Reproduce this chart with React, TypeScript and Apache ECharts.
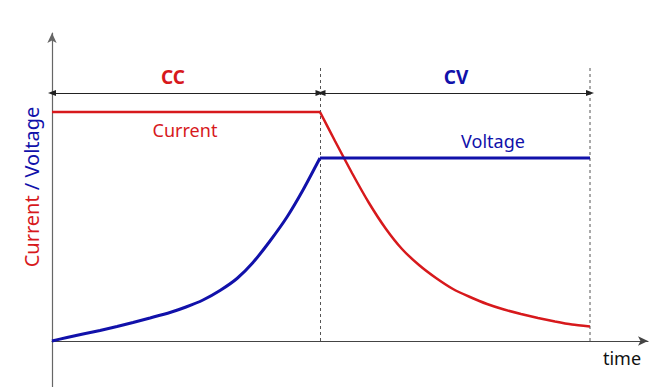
import React, { useEffect, useRef } from "react";
import * as echarts from "echarts";

// time (x) and level (y) in chart units
const currentFlat: [number, number][] = [[0, 229], [268, 229]];
const currentDecay: [number, number][] = [
  [268, 229], [283, 200], [300, 168], [317, 138], [334, 112], [350, 92], [367, 76],
  [384, 63], [401, 52], [418, 44], [435, 37], [452, 31.5], [469, 27], [486, 23],
  [503, 19.5], [520, 16.5], [538, 14.5],
];
const voltageRise: [number, number][] = [
  [0, 0], [15, 3.5], [31, 7], [48, 10.5], [65, 14.5], [81, 18.5], [98, 23], [118, 28.5],
  [134, 34], [151, 41], [168, 50.5], [185, 62.5], [201, 78.5], [218, 100], [235, 124],
  [251, 151], [268, 183],
];
const voltageFlat: [number, number][] = [[268, 183], [538, 183]];
const phaseBounds = [0, 268.5, 538];
const phaseNames = ["CC", "CV"];
const markerTop = 276;
const arrowLevel = 248;

const RED = "#d7191c";
const BLUE = "#1111aa";
const FONT = "Noto Sans";

export default function App() {
  const ref = useRef<HTMLDivElement>(null);
  useEffect(() => {
    document.body.style.margin = "0";
    const chart = echarts.init(ref.current!, undefined, { renderer: "svg" });
    const axisCommon = {
      type: "value" as const,
      axisTick: { show: false },
      axisLabel: { show: false },
      splitLine: { show: false },
    };
    chart.setOption({
      animation: false,
      grid: { left: 52, right: 14, top: 33, bottom: 0, outerBoundsMode: "none" },
      xAxis: {
        ...axisCommon,
        min: 0,
        max: 596,
        axisLine: {
          show: true,
          onZero: true,
          symbol: ["none", "arrow"],
          symbolSize: [7, 10],
          lineStyle: { color: "#444", width: 1.2 },
        },
      },
      yAxis: {
        ...axisCommon,
        min: -46,
        max: 308,
        axisLine: {
          show: true,
          onZero: true,
          symbol: ["none", "arrow"],
          symbolSize: [7, 10],
          lineStyle: { color: "#666", width: 1.2 },
        },
      },
      series: [
        {
          type: "line",
          data: [[phaseBounds[1], 0], [phaseBounds[1], markerTop]],
          symbol: "none",
          lineStyle: { color: "#555", width: 1, type: [3, 3] },
          markLine: {
            silent: true,
            symbol: ["triangle", "triangle"],
            symbolSize: [6, 8],
            label: { show: false },
            lineStyle: { color: "#222", width: 1, type: "solid" },
            data: [
              [{ coord: [phaseBounds[0], arrowLevel] }, { coord: [phaseBounds[1] - 1, arrowLevel] }],
              [{ coord: [phaseBounds[1] + 1, arrowLevel] }, { coord: [phaseBounds[2], arrowLevel] }],
            ],
          },
        },
        {
          type: "line",
          data: [[phaseBounds[2], 0], [phaseBounds[2], markerTop]],
          symbol: "none",
          lineStyle: { color: "#555", width: 1, type: [3, 3] },
        },
        {
          type: "line",
          data: currentFlat,
          symbol: "none",
          lineStyle: { color: RED, width: 2.5 },
        },
        {
          type: "line",
          data: currentDecay,
          symbol: "none",
          smooth: 0.2,
          lineStyle: { color: RED, width: 2.5 },
        },
        {
          type: "line",
          data: voltageRise,
          symbol: "none",
          smooth: 0.2,
          lineStyle: { color: BLUE, width: 3 },
        },
        {
          type: "line",
          data: voltageFlat,
          symbol: "none",
          lineStyle: { color: BLUE, width: 3 },
        },
      ],
      graphic: [
        {
          type: "text",
          x: 173,
          y: 77,
          style: {
            text: phaseNames[0],
            fill: RED,
            font: `bold 19px "${FONT}"`,
            align: "center",
            verticalAlign: "middle",
          },
        },
        {
          type: "text",
          x: 456,
          y: 77,
          style: {
            text: phaseNames[1],
            fill: BLUE,
            font: `bold 19px "${FONT}"`,
            align: "center",
            verticalAlign: "middle",
          },
        },
        {
          type: "text",
          x: 185,
          y: 130,
          style: {
            text: "Current",
            fill: RED,
            font: `18px "${FONT}"`,
            align: "center",
            verticalAlign: "middle",
          },
        },
        {
          type: "text",
          x: 493,
          y: 141,
          style: {
            text: "Voltage",
            fill: BLUE,
            font: `18px "${FONT}"`,
            align: "center",
            verticalAlign: "middle",
          },
        },
        {
          type: "text",
          x: 622,
          y: 358,
          style: {
            text: "time",
            fill: "#111",
            font: `18px "${FONT}"`,
            align: "center",
            verticalAlign: "middle",
          },
        },
        {
          type: "text",
          x: 31,
          y: 187,
          rotation: Math.PI / 2,
          style: {
            text: "{a|Current }{b|/ Voltage}",
            align: "center",
            verticalAlign: "middle",
            rich: {
              a: { fill: RED, font: `20px "${FONT}"` },
              b: { fill: BLUE, font: `20px "${FONT}"` },
            },
          },
        },
      ],
    });
    return () => chart.dispose();
  }, []);
  return <div ref={ref} style={{ width: 662, height: 387 }} />;
}
